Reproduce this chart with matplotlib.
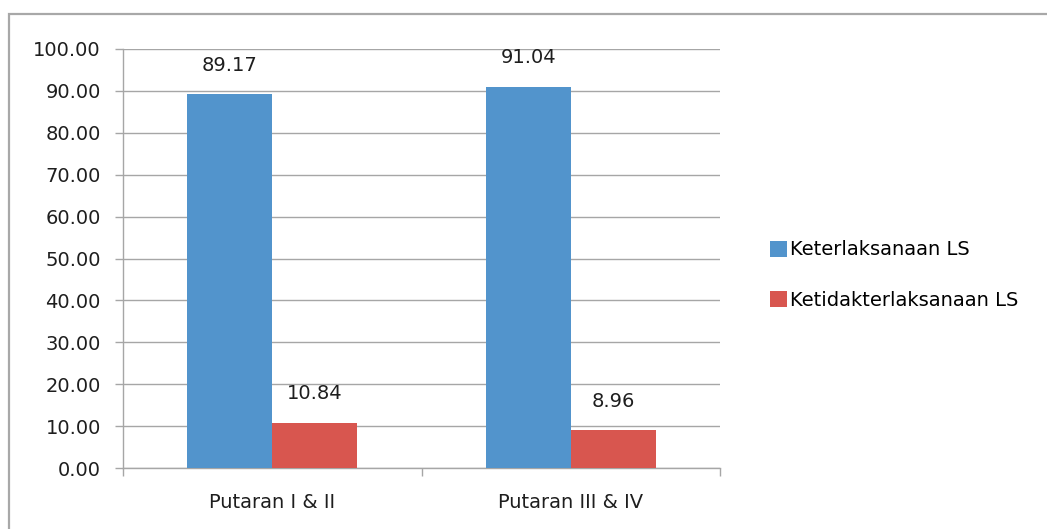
import numpy as np
import matplotlib.pyplot as plt
from matplotlib.patches import Rectangle

plt.rcParams["font.family"] = ["DejaVu Sans"]

# Data
categories = ["Putaran I & II", "Putaran III & IV"]
series_names = ["Keterlaksanaan LS", "Ketidakterlaksanaan LS"]
terlaksana = [89.17, 91.04]
tidak_terlaksana = [10.84, 8.96]
y_ticks = [0, 10, 20, 30, 40, 50, 60, 70, 80, 90, 100]

blue = "#5294CC"
red = "#D8564F"
grid_col = "#A6A6A6"
txt = "#1E1E1E"

fig = plt.figure(figsize=(10.47, 5.29), dpi=100)
ax = fig.add_axes([123 / 1047, 61 / 529, 597 / 1047, 419 / 529])

# outer chart border (cropped on right and bottom)
fig.patches.append(Rectangle((9 / 1047, -0.2), 2, 1 - 14 / 529 + 0.2,
                             transform=fig.transFigure, fill=False,
                             edgecolor="#A8A8A8", linewidth=1.6))

x = np.arange(len(categories))
w = 0.285
b1 = ax.bar(x - w / 2, terlaksana, w, color=blue, label=series_names[0], zorder=3)
b2 = ax.bar(x + w / 2, tidak_terlaksana, w, color=red, label=series_names[1], zorder=3)

for bars, vals in [(b1, terlaksana), (b2, tidak_terlaksana)]:
    for rect, v in zip(bars, vals):
        ax.annotate(f"{v:.2f}", (rect.get_x() + rect.get_width() / 2, v),
                    xytext=(0, 14), textcoords="offset points",
                    ha="center", va="bottom", fontsize=14, color=txt)

ax.set_xlim(-0.5, len(categories) - 0.5)
ax.set_ylim(0, 100)
ax.set_yticks(y_ticks)
ax.set_yticklabels([f"{t:.2f}" for t in y_ticks], fontsize=14, color=txt)
ax.yaxis.grid(True, color=grid_col, linewidth=1, zorder=0)
ax.set_axisbelow(True)

ax.set_xticks(x)
ax.set_xticklabels(categories, fontsize=14, color=txt)
ax.set_xticks(np.arange(-0.5, len(categories)), minor=True)
ax.tick_params(axis="x", which="major", length=0, pad=18)
ax.tick_params(axis="x", which="minor", length=6, color=grid_col, width=1)
ax.tick_params(axis="y", length=6, color=grid_col, width=1, pad=10)

for s in ["top", "right"]:
    ax.spines[s].set_visible(False)
for s in ["left", "bottom"]:
    ax.spines[s].set_color(grid_col)
    ax.spines[s].set_linewidth(1)

fig.legend(loc="center left", bbox_to_anchor=(770 / 1047, 1 - 275 / 529),
           frameon=False, fontsize=14, handlelength=0.88, handleheight=0.88,
           handletextpad=0.15, labelspacing=1.6, borderpad=0, borderaxespad=0)

fig.savefig("out.png", dpi=100)
